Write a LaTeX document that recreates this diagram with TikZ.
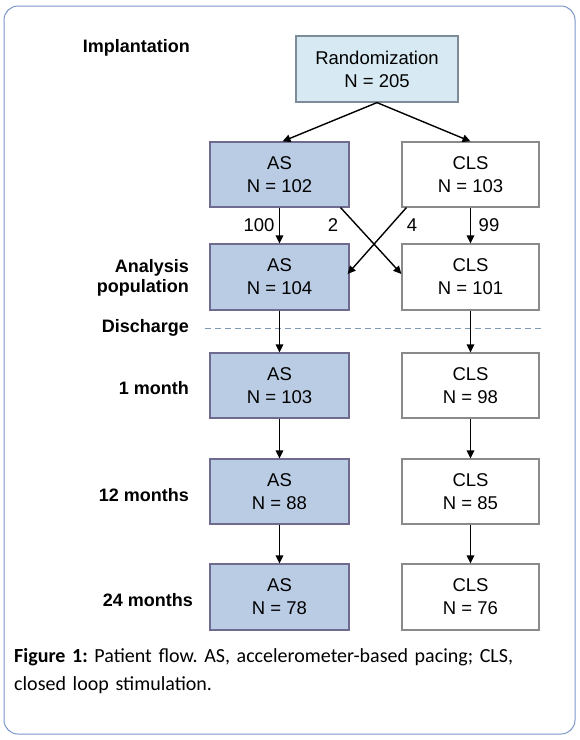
\documentclass[tikz,border=0pt]{standalone}
\usepackage{fontspec}
\setmainfont{Liberation Sans}
\newfontfamily\capfont{Carlito}
\usetikzlibrary{arrows.meta,calc}
\definecolor{asfill}{HTML}{B9CCE4}
\definecolor{asdraw}{HTML}{6E6A90}
\definecolor{rfill}{HTML}{D7EAF3}
\definecolor{rdraw}{HTML}{7D8C98}
\definecolor{clsdraw}{HTML}{8A8A8A}
\definecolor{dashcol}{HTML}{7F98B4}
\definecolor{framecol}{HTML}{7B96C8}
\tikzset{
  box/.style={draw, line width=1.2pt, inner sep=0pt, align=center, font=\fontsize{18.5}{23}\selectfont},
  asbox/.style={box, fill=asfill, draw=asdraw, minimum width=139pt, minimum height=65pt},
  clsbox/.style={box, fill=white, draw=clsdraw, minimum width=137pt, minimum height=65pt},
  rbox/.style={box, fill=rfill, draw=rdraw, minimum width=162pt, minimum height=66pt},
  lab/.style={anchor=east, font=\bfseries\fontsize{18}{20.5}\selectfont, align=right, inner sep=0pt},
  num/.style={font=\fontsize{18.5}{20}\selectfont, inner sep=0pt},
  arr/.style={line width=1.4pt, -{Triangle[length=8pt,width=7.5pt]}}
}
\begin{document}
\frenchspacing
\begin{tikzpicture}[x=1pt,y=-1pt]
\useasboundingbox (0,0) rectangle (580,740);
\draw[framecol, line width=1pt, rounded corners=14pt] (4,6) rectangle (575,734);

\node[rbox] (rand) at (377,69) {Randomization\\N = 205};
\node[asbox] (as1) at (279.5,174.5) {AS\\N = 102};
\node[clsbox] (cls1) at (470.5,174.5) {CLS\\N = 103};
\node[asbox, minimum height=66pt] (as2) at (279.5,277) {AS\\N = 104};
\node[clsbox, minimum height=66pt] (cls2) at (470.5,277) {CLS\\N = 101};
\node[asbox] (as3) at (279.5,385.5) {AS\\N = 103};
\node[clsbox] (cls3) at (470.5,385.5) {CLS\\N = 98};
\node[asbox] (as4) at (279.5,491.5) {AS\\N = 88};
\node[clsbox] (cls4) at (470.5,491.5) {CLS\\N = 85};
\node[asbox, minimum height=66pt] (as5) at (279.5,597) {AS\\N = 78};
\node[clsbox, minimum height=66pt] (cls5) at (470.5,597) {CLS\\N = 76};

\node[lab] (limp) at (190,48) {Implantation};
\node[lab] (lana) at (189,278) {Analysis\\population};
\node[lab] (ldis) at (189,328) {Discharge};
\node[lab] (l1) at (189,388) {1 month};
\node[lab] (l12) at (189,495) {12 months};
\node[lab] (l24) at (193,600) {24 months};

\coordinate (dashL) at (205,328);
\coordinate (dashR) at (545,328);
\draw[dashcol, line width=1pt, dash pattern=on 6pt off 4pt] (dashL) -- (dashR);

\draw[arr] (rand.south) -- ([xshift=3pt]as1.north);
\draw[arr] (rand.south) -- (cls1.north);
\draw[arr] (as1.south) -- (as2.north);
\draw[arr] (cls1.south) -- (cls2.north);
\draw[arr] ([xshift=-9pt]as1.south east) -- ([yshift=3pt]cls2.west);
\draw[arr] ([xshift=5pt]cls1.south west) -- ([yshift=3pt,xshift=-2pt]as2.east);
\draw[arr] (as2.south) -- (as3.north);
\draw[arr] (cls2.south) -- (cls3.north);
\draw[arr] (as3.south) -- (as4.north);
\draw[arr] (cls3.south) -- (cls4.north);
\draw[arr] (as4.south) -- (as5.north);
\draw[arr] (cls4.south) -- (cls5.north);

\node[num] (n100) at (259,225) {100};
\node[num] (n2) at (333,225) {2};
\node[num] (n4) at (412,225) {4};
\node[num] (n99) at (489,225) {99};

\node[anchor=north west, inner sep=0pt, align=left, text width=560pt,
      font=\capfont\fontsize{20}{28}\selectfont] (cap) at (14,648)
  {\textbf{Figure 1:} Patient flow. AS, accelerometer-based pacing; CLS,\\closed loop stimulation.};
\end{tikzpicture}
\end{document}
